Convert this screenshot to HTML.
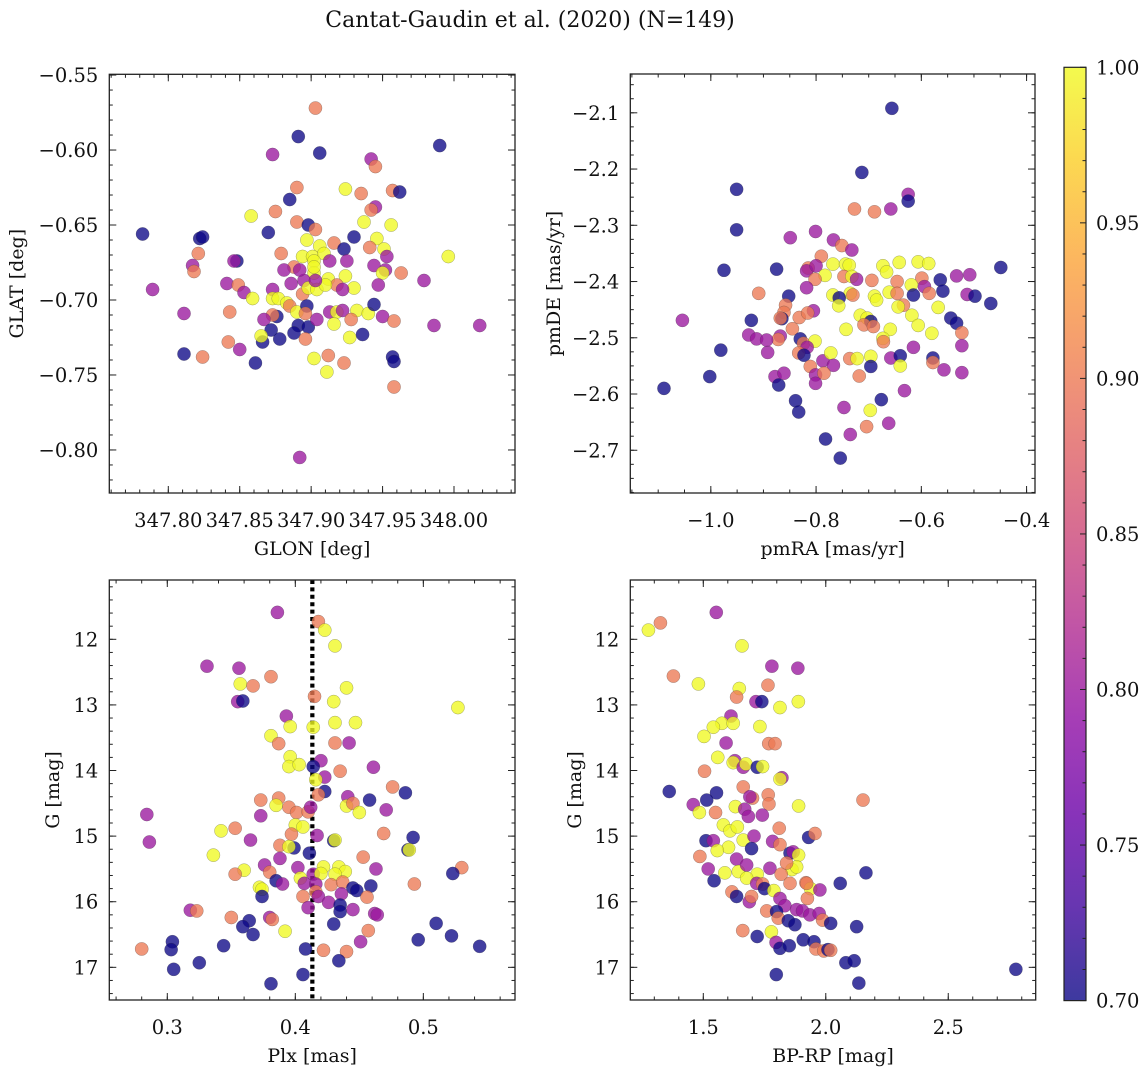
<!DOCTYPE html>
<html><head><meta charset="utf-8"><style>
html,body{margin:0;padding:0;background:#fff;}
svg text{font-family:"DejaVu Serif","Liberation Serif",serif;fill:#111;}
</style></head><body>
<svg id="fig" width="1148" height="1067" viewBox="0 0 1148 1067" xmlns="http://www.w3.org/2000/svg">
<rect width="1148" height="1067" fill="#fff"/>
<text x="530" y="27" font-size="22" text-anchor="middle">Cantat-Gaudin et al. (2020) (N=149)</text>
<g id="layer"></g>
</svg>
<script>
// ---------- Panel 1: GLON vs GLAT ----------
const p1GLON=[347.903,347.891,347.906,347.873,347.990,347.942,347.945,347.890,347.924,347.935,347.957,347.962,347.885,347.945,347.942,347.875,347.858,347.890,347.898,347.903,347.937,347.956,347.782,347.870,347.822,347.824,347.930,347.897,347.916,347.946,347.906,347.923,347.941,347.951,347.821,347.879,347.894,347.901,347.909,347.913,347.925,347.953,347.996,347.848,347.846,347.817,347.818,347.888,347.902,347.944,347.881,347.902,347.924,347.952,347.950,347.963,347.979,347.789,347.841,347.849,347.886,347.895,347.912,347.918,347.930,347.947,347.853,347.859,347.873,347.873,347.877,347.883,347.894,347.898,347.904,347.910,347.922,347.811,347.843,347.885,347.890,347.897,347.896,347.913,347.918,347.922,347.932,347.940,347.944,347.950,347.958,347.986,348.018,347.876,347.873,347.867,347.872,347.891,347.898,347.904,347.916,347.928,347.888,347.878,347.866,347.865,347.896,347.927,347.936,347.842,347.850,347.811,347.824,347.861,347.902,347.912,347.923,347.957,347.958,347.911,347.958,347.892,347.903,347.892,347.902];
const p1GLAT=[-0.572,-0.591,-0.602,-0.603,-0.597,-0.606,-0.611,-0.625,-0.626,-0.629,-0.627,-0.628,-0.633,-0.638,-0.640,-0.641,-0.644,-0.648,-0.650,-0.653,-0.648,-0.650,-0.656,-0.655,-0.659,-0.658,-0.658,-0.660,-0.662,-0.659,-0.664,-0.666,-0.665,-0.666,-0.669,-0.669,-0.671,-0.671,-0.669,-0.674,-0.674,-0.671,-0.671,-0.674,-0.674,-0.677,-0.681,-0.678,-0.674,-0.677,-0.680,-0.682,-0.684,-0.680,-0.682,-0.682,-0.687,-0.693,-0.689,-0.690,-0.689,-0.687,-0.686,-0.690,-0.692,-0.690,-0.695,-0.699,-0.693,-0.699,-0.699,-0.702,-0.696,-0.692,-0.693,-0.690,-0.693,-0.709,-0.708,-0.704,-0.708,-0.704,-0.709,-0.708,-0.708,-0.707,-0.707,-0.709,-0.703,-0.711,-0.714,-0.717,-0.717,-0.711,-0.710,-0.713,-0.720,-0.717,-0.718,-0.713,-0.716,-0.713,-0.722,-0.726,-0.728,-0.724,-0.726,-0.725,-0.723,-0.728,-0.733,-0.736,-0.738,-0.742,-0.739,-0.737,-0.742,-0.738,-0.741,-0.748,-0.758,-0.805,-0.687,-0.680,-0.678];
const p1Memb=[0.9,0.7,0.7,0.8,0.7,0.8,0.9,0.9,1,0.9,0.9,0.7,0.7,0.8,0.9,0.9,1,0.9,0.7,0.9,1,1,0.7,0.7,0.7,0.7,0.7,1,0.9,1,1,0.7,0.9,1,0.9,0.9,1,1,1,0.8,0.8,0.8,1,0.7,0.8,0.8,0.9,0.9,1,0.8,0.8,1,1,0.8,1,0.9,0.8,0.8,0.8,0.9,0.8,0.8,1,0.9,1,0.8,0.8,1,0.8,1,1,1,0.9,1,1,1,0.8,0.8,0.9,0.9,1,0.7,0.9,0.8,1,0.8,1,1,0.7,0.8,0.9,0.8,0.8,0.7,0.9,0.8,0.7,0.7,0.7,0.8,1,0.9,0.7,0.7,0.7,1,0.9,1,0.7,0.9,0.8,0.7,0.9,0.7,1,0.9,0.9,0.7,0.7,1,0.9,0.8,0.8,0.8,1];
const p1XTicks=["347.80","347.85","347.90","347.95","348.00"];
const p1YTicks=["-0.55","-0.60","-0.65","-0.70","-0.75","-0.80"];

// ---------- Panel 2: pmRA vs pmDE ----------
const p2PMRA=[-0.656,-0.713,-0.951,-0.625,-0.625,-0.727,-0.689,-0.658,-0.951,-0.849,-0.801,-0.767,-0.751,-0.732,-0.975,-0.875,-0.790,-0.815,-0.818,-0.800,-0.768,-0.744,-0.737,-0.783,-0.802,-0.747,-0.732,-0.723,-0.694,-0.673,-0.666,-0.642,-0.606,-0.586,-0.646,-0.599,-0.619,-0.564,-0.533,-0.508,-0.449,-0.818,-0.909,-0.852,-0.768,-0.735,-0.730,-0.756,-0.757,-0.689,-0.685,-0.661,-0.646,-0.634,-0.615,-0.594,-0.585,-0.559,-0.513,-0.498,-0.468,-0.644,-0.568,-1.054,-0.923,-0.858,-0.861,-0.865,-0.832,-0.805,-0.816,-0.716,-0.703,-0.696,-0.709,-0.691,-0.743,-0.659,-0.618,-0.606,-0.544,-0.533,-0.523,-0.580,-0.928,-0.913,-0.981,-0.845,-0.868,-0.872,-0.830,-0.824,-0.802,-0.817,-0.673,-0.672,-0.615,-0.523,-0.892,-0.833,-0.823,-0.787,-0.772,-0.767,-0.736,-0.722,-0.696,-0.658,-0.640,-0.640,-0.696,-0.578,-0.578,-0.557,-0.523,-1.002,-0.811,-0.718,-0.878,-0.871,-0.861,-0.801,-0.801,-0.785,-1.089,-0.839,-0.833,-0.747,-0.697,-0.676,-0.632,-0.704,-0.662,-0.782,-0.735,-0.754,-0.868,-0.894];
const p2PMDE=[-2.092,-2.206,-2.236,-2.245,-2.257,-2.271,-2.276,-2.271,-2.308,-2.322,-2.311,-2.326,-2.336,-2.344,-2.380,-2.378,-2.355,-2.376,-2.381,-2.372,-2.369,-2.369,-2.371,-2.389,-2.396,-2.391,-2.391,-2.396,-2.398,-2.372,-2.383,-2.366,-2.365,-2.368,-2.400,-2.394,-2.406,-2.397,-2.390,-2.388,-2.375,-2.411,-2.421,-2.426,-2.424,-2.421,-2.424,-2.429,-2.443,-2.426,-2.433,-2.419,-2.421,-2.442,-2.424,-2.409,-2.421,-2.417,-2.423,-2.426,-2.439,-2.445,-2.446,-2.469,-2.469,-2.442,-2.455,-2.466,-2.464,-2.452,-2.456,-2.460,-2.465,-2.471,-2.477,-2.480,-2.485,-2.485,-2.460,-2.478,-2.465,-2.474,-2.491,-2.492,-2.495,-2.502,-2.522,-2.484,-2.497,-2.503,-2.502,-2.510,-2.506,-2.517,-2.501,-2.507,-2.517,-2.514,-2.526,-2.527,-2.531,-2.541,-2.527,-2.549,-2.537,-2.537,-2.533,-2.536,-2.532,-2.550,-2.551,-2.536,-2.544,-2.557,-2.562,-2.569,-2.551,-2.568,-2.569,-2.584,-2.563,-2.566,-2.581,-2.563,-2.590,-2.612,-2.632,-2.624,-2.629,-2.610,-2.594,-2.658,-2.652,-2.680,-2.672,-2.714,-2.465,-2.504];
const p2Memb=[0.7,0.7,0.7,0.8,0.7,0.9,0.9,0.8,0.7,0.8,0.8,0.8,0.9,0.8,0.7,0.7,0.9,0.9,0.8,0.8,1,1,1,1,0.9,0.9,1,0.8,0.9,1,1,1,1,1,0.9,0.9,1,0.7,0.8,0.8,0.7,0.8,0.9,0.7,1,1,0.9,0.7,1,1,1,1,0.9,0.9,0.7,0.8,0.9,0.7,0.8,0.7,0.7,1,1,0.8,0.7,0.9,0.9,0.7,0.9,0.8,0.9,1,1,0.7,0.9,0.9,1,1,1,1,0.7,0.7,0.9,1,0.8,0.8,0.7,0.9,0.8,0.9,0.7,0.9,1,0.8,1,0.9,0.8,0.8,0.8,0.9,0.7,0.8,1,0.8,0.9,1,1,0.8,0.7,1,0.7,0.7,0.9,0.8,0.8,0.7,0.9,0.9,0.8,0.7,0.8,0.8,0.8,0.9,0.7,0.7,0.7,0.8,1,0.7,0.8,0.9,0.8,0.7,0.8,0.7,0.9,0.8];
const p2XTicks=["-1.0","-0.8","-0.6","-0.4"];
const p2YTicks=["-2.1","-2.2","-2.3","-2.4","-2.5","-2.6","-2.7"];

// ---------- Panel 3: Plx vs G ----------
const p3Plx=[0.386,0.418,0.423,0.431,0.331,0.356,0.381,0.357,0.367,0.440,0.415,0.430,0.355,0.359,0.527,0.393,0.396,0.414,0.431,0.447,0.381,0.387,0.431,0.442,0.396,0.395,0.403,0.420,0.414,0.461,0.435,0.423,0.416,0.423,0.476,0.486,0.458,0.418,0.373,0.387,0.385,0.395,0.401,0.410,0.412,0.441,0.440,0.445,0.450,0.471,0.284,0.373,0.342,0.353,0.400,0.406,0.397,0.417,0.469,0.492,0.286,0.365,0.430,0.431,0.388,0.399,0.395,0.411,0.488,0.489,0.336,0.388,0.453,0.376,0.402,0.422,0.434,0.439,0.463,0.530,0.360,0.353,0.380,0.404,0.414,0.420,0.431,0.523,0.385,0.390,0.372,0.374,0.407,0.416,0.428,0.437,0.445,0.448,0.459,0.493,0.374,0.406,0.416,0.418,0.426,0.436,0.456,0.318,0.323,0.410,0.435,0.435,0.445,0.462,0.464,0.350,0.364,0.380,0.382,0.359,0.367,0.430,0.510,0.392,0.457,0.304,0.303,0.280,0.344,0.451,0.496,0.522,0.544,0.408,0.422,0.440,0.305,0.325,0.434,0.381,0.406];
const p3G=[11.59,11.73,11.86,12.10,12.41,12.44,12.57,12.68,12.71,12.74,12.87,12.95,12.95,12.94,13.04,13.17,13.33,13.34,13.27,13.27,13.47,13.59,13.58,13.58,13.79,13.94,13.91,13.85,13.94,13.95,14.01,14.10,14.14,14.32,14.25,14.34,14.45,14.37,14.45,14.42,14.53,14.56,14.64,14.63,14.56,14.40,14.54,14.50,14.64,14.60,14.67,14.69,14.92,14.88,14.83,14.86,14.97,14.99,14.96,15.02,15.09,15.06,15.07,15.06,15.14,15.18,15.16,15.26,15.21,15.21,15.29,15.34,15.32,15.44,15.48,15.47,15.47,15.54,15.50,15.48,15.52,15.58,15.55,15.64,15.58,15.57,15.58,15.57,15.68,15.73,15.78,15.81,15.72,15.73,15.74,15.70,15.79,15.83,15.76,15.73,15.92,15.92,15.85,15.92,16.01,15.88,15.93,16.13,16.14,16.09,16.05,16.15,16.12,16.18,16.20,16.24,16.29,16.24,16.27,16.38,16.50,16.34,16.33,16.45,16.44,16.61,16.73,16.72,16.67,16.61,16.58,16.52,16.68,16.72,16.74,16.76,17.03,16.93,16.90,17.25,17.11];
const p3Memb=[0.8,0.9,1,1,0.8,0.8,0.9,1,0.9,1,0.9,1,0.8,0.7,1,0.8,1,1,1,1,1,0.9,0.9,0.8,1,1,1,0.8,0.7,0.8,0.9,0.8,1,0.7,0.9,0.7,0.7,0.9,0.9,0.9,1,0.9,0.9,0.9,0.8,0.8,1,0.9,1,0.8,0.8,0.8,1,0.9,1,1,0.9,0.8,0.9,0.7,0.8,0.8,0.7,1,0.9,0.7,1,0.7,0.7,1,1,0.8,0.9,0.8,0.8,1,1,1,0.8,0.9,1,0.9,0.9,1,0.8,1,1,0.7,0.7,0.8,1,1,0.8,0.8,0.9,0.9,0.7,0.7,0.7,0.9,0.7,0.9,0.9,0.8,0.8,0.8,0.9,0.8,0.9,0.8,0.7,0.7,0.8,0.8,0.8,0.9,0.7,0.8,0.9,0.7,0.7,0.7,0.7,1,0.9,0.7,0.7,0.9,0.7,0.8,0.7,0.7,0.7,0.7,0.9,0.9,0.7,0.7,0.7,0.7,0.7];
const p3MedianPlx=0.4133;
const p3XTicks=["0.3","0.4","0.5"];
const gTicks=["12","13","14","15","16","17"];

// ---------- Panel 4: BP-RP vs G ----------
const p4Color=[1.276,1.325,1.553,1.658,1.378,1.480,1.780,1.886,1.647,1.764,1.636,1.715,1.739,1.813,1.888,1.613,1.576,1.541,1.622,1.503,1.731,1.593,1.767,1.793,1.559,1.629,1.622,1.663,1.674,1.720,1.742,1.505,1.821,1.813,1.361,1.554,1.514,1.663,1.701,1.690,1.765,1.768,2.152,1.459,1.484,1.550,1.631,1.669,1.684,1.741,1.889,1.582,1.609,1.639,1.810,1.511,1.541,1.663,1.707,1.697,1.603,1.557,1.783,1.813,1.930,1.956,1.486,1.636,1.854,1.867,1.889,1.520,1.588,1.643,1.677,1.720,1.772,1.862,1.881,1.818,1.544,1.677,1.718,1.742,1.750,1.854,1.919,1.938,1.976,2.059,2.164,1.617,1.636,1.688,1.697,1.788,1.813,1.925,1.833,1.759,1.799,1.806,1.847,1.874,1.881,1.905,1.935,1.973,1.987,2.020,2.126,1.661,1.720,1.778,1.797,1.813,1.851,1.908,1.952,1.960,1.992,2.009,2.020,2.082,2.116,1.798,2.135,2.776,1.840,1.922];
const p4G=[11.86,11.75,11.59,12.10,12.56,12.68,12.41,12.44,12.75,12.70,12.88,12.95,12.95,13.04,12.95,13.17,13.28,13.34,13.28,13.48,13.33,13.58,13.59,13.59,13.80,13.85,13.88,13.95,13.90,13.95,13.94,14.01,14.11,14.13,14.32,14.34,14.45,14.25,14.42,14.40,14.37,14.51,14.45,14.52,14.64,14.64,14.55,14.59,14.70,14.68,14.54,14.83,14.92,14.86,14.88,15.07,15.07,15.06,15.00,15.19,15.17,15.22,15.08,15.13,15.02,14.96,15.31,15.35,15.26,15.24,15.29,15.50,15.56,15.54,15.44,15.58,15.49,15.51,15.47,15.58,15.68,15.64,15.72,15.73,15.80,15.72,15.71,15.80,15.82,15.72,15.56,15.85,15.92,16.00,15.92,15.83,15.95,15.95,16.06,16.14,16.15,16.25,16.29,16.35,16.12,16.14,16.20,16.18,16.28,16.33,16.38,16.44,16.53,16.46,16.62,16.71,16.67,16.58,16.61,16.72,16.75,16.73,16.74,16.93,16.90,17.11,17.24,17.03,15.41,15.72];
const p4Memb=[1,0.9,0.8,1,0.9,1,0.8,0.8,1,0.9,0.9,0.8,0.7,1,1,0.8,1,1,1,1,1,0.8,0.9,0.9,1,0.8,1,0.8,1,0.7,1,0.9,0.8,1,0.7,0.7,0.7,0.9,0.9,0.8,0.9,0.9,0.9,0.8,1,0.9,1,0.8,0.8,0.8,1,1,1,1,0.9,0.7,0.8,1,0.8,0.7,1,1,0.8,0.9,0.7,0.9,0.9,0.8,0.7,0.8,1,0.8,1,1,0.8,1,0.8,1,1,0.9,0.7,1,0.8,0.9,0.7,0.9,0.9,1,0.8,0.7,0.7,0.9,0.7,0.8,0.9,1,0.8,0.9,0.8,0.9,0.7,0.9,0.7,0.7,0.8,0.8,0.8,0.8,0.9,0.7,0.7,0.9,0.7,1,0.8,0.7,0.7,0.7,0.7,0.9,0.9,0.7,0.9,0.7,0.7,0.7,0.7,0.7,0.9,0.9];
const p4XTicks=["1.5","2.0","2.5"];
const cbTicks=["0.70","0.75","0.80","0.85","0.90","0.95","1.00"];

const NS="http://www.w3.org/2000/svg";
const layer=document.getElementById('layer');
function mk(tag,attrs,parent){const e=document.createElementNS(NS,tag);for(const k in attrs)e.setAttribute(k,attrs[k]);(parent||layer).appendChild(e);return e;}
const stops=["#0d0887","#41049d","#6a00a8","#8f0da4","#b12a90","#cc4778","#e16462","#f2844b","#fca636","#fcce25","#f0f921"];
function hex(h){return [1,3,5].map(i=>parseInt(h.substr(i,2),16));}
function plasma(t){t=Math.max(0,Math.min(1,t));const f=t*10,i=Math.min(9,Math.floor(f)),r=f-i;const a=hex(stops[i]),b=hex(stops[i+1]);return 'rgb('+a.map((v,k)=>Math.round(v+(b[k]-v)*r)).join(',')+')';}
const cmin=0.70,cmax=1.00;
function lin(d0,d1,r0,r1){return v=>r0+(v-d0)/(d1-d0)*(r1-r0);}
const TF=19.5;

function panel(o){
  const g=mk('g',{});
  
  
  const sx=lin(o.xd[0],o.xd[1],o.L,o.R), sy=lin(o.yd[0],o.yd[1],o.T,o.B);
  const clipId='clip-'+o.name;
  const cp=mk('clipPath',{id:clipId},g);mk('rect',{x:o.L,y:o.T,width:o.R-o.L,height:o.B-o.T},cp);
  const pts=mk('g',{'clip-path':'url(#'+clipId+')'},g);
  
  
  if(o.vline!==undefined){
    const ln=mk('line',{x1:sx(o.vline),x2:sx(o.vline),y1:o.T,y2:o.B,stroke:'#000','stroke-width':4.2,'stroke-dasharray':'4 3.4'},pts);
    
    
  }
  for(let i=0;i<o.xs.length;i++){
    const c=mk('circle',{cx:sx(o.xs[i]),cy:sy(o.ys[i]),r:6.6,fill:plasma((o.cs[i]-cmin)/(cmax-cmin)),'fill-opacity':0.78,stroke:'rgba(60,60,60,0.45)','stroke-width':0.5},pts);
    
    
  }
  mk('rect',{x:o.L,y:o.T,width:o.R-o.L,height:o.B-o.T,fill:'none',stroke:'#222','stroke-width':1.3},g);
  const tk=mk('g',{stroke:'#222','stroke-width':1},g);
  for(let v=o.xMinorStart;v<=o.xd[1]+1e-9;v+=o.xMinor){const x=sx(v);if(x<o.L||x>o.R)continue;
    mk('line',{x1:x,x2:x,y1:o.B,y2:o.B-3.5},tk);mk('line',{x1:x,x2:x,y1:o.T,y2:o.T+3.5},tk);}
  const yhi=Math.max(o.yd[0],o.yd[1]);
  for(let v=o.yMinorStart;v<=yhi+1e-9;v+=o.yMinor){const y=sy(v);if(y<o.T||y>o.B)continue;
    mk('line',{x1:o.L,x2:o.L+3.5,y1:y,y2:y},tk);mk('line',{x1:o.R,x2:o.R-3.5,y1:y,y2:y},tk);}
  o.xt.forEach(s=>{const v=parseFloat(s),x=sx(v);
    mk('line',{x1:x,x2:x,y1:o.B,y2:o.B-7},tk);mk('line',{x1:x,x2:x,y1:o.T,y2:o.T+7},tk);
    const t=mk('text',{x:x,y:o.B+34,'font-size':TF,'text-anchor':'middle'},g);t.textContent=s.replace('-','\u2212');
    
    });
  o.yt.forEach(s=>{const v=parseFloat(s),y=sy(v);
    mk('line',{x1:o.L,x2:o.L+7,y1:y,y2:y},tk);mk('line',{x1:o.R,x2:o.R-7,y1:y,y2:y},tk);
    const t=mk('text',{x:o.L-11,y:y+7,'font-size':TF,'text-anchor':'end'},g);t.textContent=s.replace('-','\u2212');
    
    });
  const xl=mk('text',{x:(o.L+o.R)/2,y:o.B+62,'font-size':19,'text-anchor':'middle'},g);xl.textContent=o.xlabel;
  
  
  const yl=mk('text',{x:0,y:0,'font-size':19,'text-anchor':'middle',transform:'translate('+o.ylx+','+(o.T+o.B)/2+') rotate(-90)'},g);yl.textContent=o.ylabel;
  
  
}

panel({name:'glon-glat-panel',L:109.3,R:515,T:74.3,B:493,xd:[347.7587,348.0427],yd:[-0.5495,-0.8287],
  xs:p1GLON,ys:p1GLAT,cs:p1Memb,xt:p1XTicks,yt:p1YTicks,xMinorStart:347.76,xMinor:0.01,yMinorStart:-0.82,yMinor:0.01,
  xlabel:'GLON [deg]',ylabel:'GLAT [deg]',ylx:23});
panel({name:'proper-motion-panel',L:630.3,R:1035,T:74,B:493,xd:[-1.153,-0.384],yd:[-2.031,-2.776],
  xs:p2PMRA,ys:p2PMDE,cs:p2Memb,xt:p2XTicks,yt:p2YTicks,xMinorStart:-1.15,xMinor:0.05,yMinorStart:-2.775,yMinor:0.025,
  xlabel:'pmRA [mas/yr]',ylabel:'pmDE [mas/yr]',ylx:560});
panel({name:'parallax-panel',L:109.3,R:515,T:580,B:1000,xd:[0.2547,0.5716],yd:[11.096,17.498],
  xs:p3Plx,ys:p3G,cs:p3Memb,xt:p3XTicks,yt:gTicks,xMinorStart:0.26,xMinor:0.02,yMinorStart:11.2,yMinor:0.2,
  xlabel:'Plx [mas]',ylabel:'G [mag]',ylx:59,vline:p3MedianPlx});
panel({name:'cmd-panel',L:630.3,R:1035.7,T:580,B:1000,xd:[1.202,2.857],yd:[11.096,17.498],
  xs:p4Color,ys:p4G,cs:p4Memb,xt:p4XTicks,yt:gTicks,xMinorStart:1.3,xMinor:0.1,yMinorStart:11.2,yMinor:0.2,
  xlabel:'BP-RP [mag]',ylabel:'G [mag]',ylx:581});

(function(){
  const L=1064,R=1086,T=67.3,B=1000.6;
  const g=mk('g',{});
  
  
  const defs=mk('defs',{},g);
  const lg=mk('linearGradient',{id:'cbgrad',x1:0,y1:1,x2:0,y2:0},defs);
  for(let i=0;i<=20;i++){mk('stop',{offset:i/20,'stop-color':plasma(i/20),'stop-opacity':0.8},lg);}
  mk('rect',{x:L,y:T,width:R-L,height:B-T,fill:'url(#cbgrad)',stroke:'#222','stroke-width':1.2},g);
  const s=lin(cmin,cmax,B,T);
  for(let k=0;k<=30;k++){const v=cmin+k*0.01,y=s(v);const major=k%5===0;
    mk('line',{x1:R,x2:R-(major?6:3.5),y1:y,y2:y,stroke:'#222','stroke-width':1},g);}
  cbTicks.forEach(t=>{const y=s(parseFloat(t));const e=mk('text',{x:R+10,y:y+7,'font-size':TF},g);e.textContent=t;
    
    });
})();
</script>
</body></html>
